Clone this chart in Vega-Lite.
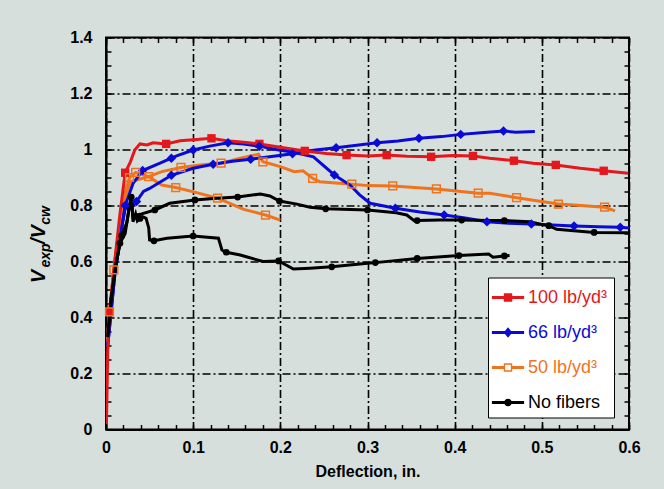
{
  "$schema": "https://vega.github.io/schema/vega-lite/v6.json",
  "width": 523,
  "height": 392,
  "autosize": "none",
  "padding": {"left": 106, "top": 37.5, "right": 35, "bottom": 59.5},
  "background": "#d7dfdc",
  "config": {
    "font": "Liberation Sans",
    "view": {"stroke": "black", "strokeWidth": 2},
    "axis": {"labelFont": "Liberation Sans", "labelFontWeight": "bold", "labelFontSize": 16, "labelColor": "black", "titleFont": "Liberation Sans", "titleFontWeight": "bold", "titleFontSize": 16, "titleColor": "black", "tickColor": "black", "tickWidth": 1.5, "domainColor": "black", "domainWidth": 2}
  },
  "data": {"values": [
    {"s":"50 lb/yd³","k":"O1","x":0.001,"y":0.3},
    {"s":"50 lb/yd³","k":"O1","x":0.004,"y":0.42,"m":1},
    {"s":"50 lb/yd³","k":"O1","x":0.009,"y":0.57,"m":1},
    {"s":"50 lb/yd³","k":"O1","x":0.015,"y":0.72},
    {"s":"50 lb/yd³","k":"O1","x":0.022,"y":0.85},
    {"s":"50 lb/yd³","k":"O1","x":0.027,"y":0.9,"m":1},
    {"s":"50 lb/yd³","k":"O1","x":0.034,"y":0.918,"m":1},
    {"s":"50 lb/yd³","k":"O1","x":0.049,"y":0.903,"m":1},
    {"s":"50 lb/yd³","k":"O1","x":0.064,"y":0.873},
    {"s":"50 lb/yd³","k":"O1","x":0.08,"y":0.864,"m":1},
    {"s":"50 lb/yd³","k":"O1","x":0.104,"y":0.846},
    {"s":"50 lb/yd³","k":"O1","x":0.128,"y":0.826,"m":1},
    {"s":"50 lb/yd³","k":"O1","x":0.142,"y":0.808},
    {"s":"50 lb/yd³","k":"O1","x":0.158,"y":0.786},
    {"s":"50 lb/yd³","k":"O1","x":0.183,"y":0.766,"m":1},
    {"s":"50 lb/yd³","k":"O1","x":0.2,"y":0.748},
    {"s":"50 lb/yd³","k":"O2","x":0.001,"y":0.3},
    {"s":"50 lb/yd³","k":"O2","x":0.009,"y":0.57},
    {"s":"50 lb/yd³","k":"O2","x":0.015,"y":0.72},
    {"s":"50 lb/yd³","k":"O2","x":0.022,"y":0.83},
    {"s":"50 lb/yd³","k":"O2","x":0.028,"y":0.885},
    {"s":"50 lb/yd³","k":"O2","x":0.049,"y":0.903},
    {"s":"50 lb/yd³","k":"O2","x":0.064,"y":0.921},
    {"s":"50 lb/yd³","k":"O2","x":0.086,"y":0.936,"m":1},
    {"s":"50 lb/yd³","k":"O2","x":0.108,"y":0.945},
    {"s":"50 lb/yd³","k":"O2","x":0.132,"y":0.951,"m":1},
    {"s":"50 lb/yd³","k":"O2","x":0.154,"y":0.969},
    {"s":"50 lb/yd³","k":"O2","x":0.175,"y":0.983},
    {"s":"50 lb/yd³","k":"O2","x":0.18,"y":0.956,"m":1},
    {"s":"50 lb/yd³","k":"O2","x":0.2,"y":0.939},
    {"s":"50 lb/yd³","k":"O2","x":0.216,"y":0.921},
    {"s":"50 lb/yd³","k":"O2","x":0.226,"y":0.924},
    {"s":"50 lb/yd³","k":"O2","x":0.237,"y":0.897,"m":1},
    {"s":"50 lb/yd³","k":"O2","x":0.245,"y":0.885},
    {"s":"50 lb/yd³","k":"O2","x":0.282,"y":0.876,"m":1},
    {"s":"50 lb/yd³","k":"O2","x":0.301,"y":0.871},
    {"s":"50 lb/yd³","k":"O2","x":0.329,"y":0.87,"m":1},
    {"s":"50 lb/yd³","k":"O2","x":0.379,"y":0.859,"m":1},
    {"s":"50 lb/yd³","k":"O2","x":0.427,"y":0.844,"m":1},
    {"s":"50 lb/yd³","k":"O2","x":0.44,"y":0.844},
    {"s":"50 lb/yd³","k":"O2","x":0.471,"y":0.828,"m":1},
    {"s":"50 lb/yd³","k":"O2","x":0.519,"y":0.805,"m":1},
    {"s":"50 lb/yd³","k":"O2","x":0.545,"y":0.8},
    {"s":"50 lb/yd³","k":"O2","x":0.572,"y":0.794,"m":1},
    {"s":"50 lb/yd³","k":"O2","x":0.584,"y":0.781},
    {"s":"66 lb/yd³","k":"B1","x":0.002,"y":0.3},
    {"s":"66 lb/yd³","k":"B1","x":0.01,"y":0.55},
    {"s":"66 lb/yd³","k":"B1","x":0.018,"y":0.72},
    {"s":"66 lb/yd³","k":"B1","x":0.022,"y":0.8,"m":1},
    {"s":"66 lb/yd³","k":"B1","x":0.031,"y":0.879},
    {"s":"66 lb/yd³","k":"B1","x":0.042,"y":0.925,"m":1},
    {"s":"66 lb/yd³","k":"B1","x":0.062,"y":0.951},
    {"s":"66 lb/yd³","k":"B1","x":0.075,"y":0.969,"m":1},
    {"s":"66 lb/yd³","k":"B1","x":0.081,"y":0.977},
    {"s":"66 lb/yd³","k":"B1","x":0.1,"y":0.998,"m":1},
    {"s":"66 lb/yd³","k":"B1","x":0.119,"y":1.012},
    {"s":"66 lb/yd³","k":"B1","x":0.14,"y":1.024,"m":1},
    {"s":"66 lb/yd³","k":"B1","x":0.158,"y":1.02},
    {"s":"66 lb/yd³","k":"B1","x":0.176,"y":1.012,"m":1},
    {"s":"66 lb/yd³","k":"B1","x":0.195,"y":1.0},
    {"s":"66 lb/yd³","k":"B1","x":0.215,"y":0.99},
    {"s":"66 lb/yd³","k":"B1","x":0.238,"y":0.974},
    {"s":"66 lb/yd³","k":"B1","x":0.262,"y":0.909,"m":1},
    {"s":"66 lb/yd³","k":"B1","x":0.28,"y":0.873},
    {"s":"66 lb/yd³","k":"B1","x":0.291,"y":0.838},
    {"s":"66 lb/yd³","k":"B1","x":0.303,"y":0.808},
    {"s":"66 lb/yd³","k":"B1","x":0.332,"y":0.79,"m":1},
    {"s":"66 lb/yd³","k":"B1","x":0.36,"y":0.777},
    {"s":"66 lb/yd³","k":"B1","x":0.388,"y":0.766,"m":1},
    {"s":"66 lb/yd³","k":"B1","x":0.412,"y":0.755},
    {"s":"66 lb/yd³","k":"B1","x":0.437,"y":0.742,"m":1},
    {"s":"66 lb/yd³","k":"B1","x":0.462,"y":0.737},
    {"s":"66 lb/yd³","k":"B1","x":0.488,"y":0.734,"m":1},
    {"s":"66 lb/yd³","k":"B1","x":0.512,"y":0.73},
    {"s":"66 lb/yd³","k":"B1","x":0.537,"y":0.727,"m":1},
    {"s":"66 lb/yd³","k":"B1","x":0.565,"y":0.724},
    {"s":"66 lb/yd³","k":"B1","x":0.59,"y":0.722,"m":1},
    {"s":"66 lb/yd³","k":"B1","x":0.6,"y":0.72},
    {"s":"66 lb/yd³","k":"B2","x":0.002,"y":0.3},
    {"s":"66 lb/yd³","k":"B2","x":0.01,"y":0.55},
    {"s":"66 lb/yd³","k":"B2","x":0.018,"y":0.72},
    {"s":"66 lb/yd³","k":"B2","x":0.022,"y":0.79},
    {"s":"66 lb/yd³","k":"B2","x":0.028,"y":0.79},
    {"s":"66 lb/yd³","k":"B2","x":0.035,"y":0.814,"m":1},
    {"s":"66 lb/yd³","k":"B2","x":0.043,"y":0.85},
    {"s":"66 lb/yd³","k":"B2","x":0.05,"y":0.861},
    {"s":"66 lb/yd³","k":"B2","x":0.075,"y":0.908,"m":1},
    {"s":"66 lb/yd³","k":"B2","x":0.1,"y":0.933},
    {"s":"66 lb/yd³","k":"B2","x":0.123,"y":0.947,"m":1},
    {"s":"66 lb/yd³","k":"B2","x":0.145,"y":0.958},
    {"s":"66 lb/yd³","k":"B2","x":0.166,"y":0.965,"m":1},
    {"s":"66 lb/yd³","k":"B2","x":0.19,"y":0.975},
    {"s":"66 lb/yd³","k":"B2","x":0.214,"y":0.985,"m":1},
    {"s":"66 lb/yd³","k":"B2","x":0.24,"y":0.998},
    {"s":"66 lb/yd³","k":"B2","x":0.264,"y":1.006,"m":1},
    {"s":"66 lb/yd³","k":"B2","x":0.29,"y":1.016},
    {"s":"66 lb/yd³","k":"B2","x":0.311,"y":1.024,"m":1},
    {"s":"66 lb/yd³","k":"B2","x":0.335,"y":1.03},
    {"s":"66 lb/yd³","k":"B2","x":0.359,"y":1.04,"m":1},
    {"s":"66 lb/yd³","k":"B2","x":0.385,"y":1.046},
    {"s":"66 lb/yd³","k":"B2","x":0.407,"y":1.054,"m":1},
    {"s":"66 lb/yd³","k":"B2","x":0.43,"y":1.06},
    {"s":"66 lb/yd³","k":"B2","x":0.456,"y":1.066,"m":1},
    {"s":"66 lb/yd³","k":"B2","x":0.47,"y":1.062},
    {"s":"66 lb/yd³","k":"B2","x":0.492,"y":1.064},
    {"s":"100 lb/yd³","k":"R1","x":0.0005,"y":0.02},
    {"s":"100 lb/yd³","k":"R1","x":0.002,"y":0.28},
    {"s":"100 lb/yd³","k":"R1","x":0.004,"y":0.42,"m":1},
    {"s":"100 lb/yd³","k":"R1","x":0.01,"y":0.6},
    {"s":"100 lb/yd³","k":"R1","x":0.016,"y":0.77},
    {"s":"100 lb/yd³","k":"R1","x":0.022,"y":0.917,"m":1},
    {"s":"100 lb/yd³","k":"R1","x":0.028,"y":0.956},
    {"s":"100 lb/yd³","k":"R1","x":0.033,"y":0.998},
    {"s":"100 lb/yd³","k":"R1","x":0.039,"y":1.02},
    {"s":"100 lb/yd³","k":"R1","x":0.047,"y":1.016},
    {"s":"100 lb/yd³","k":"R1","x":0.054,"y":1.024},
    {"s":"100 lb/yd³","k":"R1","x":0.069,"y":1.02,"m":1},
    {"s":"100 lb/yd³","k":"R1","x":0.085,"y":1.031},
    {"s":"100 lb/yd³","k":"R1","x":0.104,"y":1.036},
    {"s":"100 lb/yd³","k":"R1","x":0.121,"y":1.04,"m":1},
    {"s":"100 lb/yd³","k":"R1","x":0.138,"y":1.031},
    {"s":"100 lb/yd³","k":"R1","x":0.155,"y":1.027},
    {"s":"100 lb/yd³","k":"R1","x":0.176,"y":1.02,"m":1},
    {"s":"100 lb/yd³","k":"R1","x":0.2,"y":1.008},
    {"s":"100 lb/yd³","k":"R1","x":0.228,"y":0.995,"m":1},
    {"s":"100 lb/yd³","k":"R1","x":0.253,"y":0.986},
    {"s":"100 lb/yd³","k":"R1","x":0.276,"y":0.98,"m":1},
    {"s":"100 lb/yd³","k":"R1","x":0.3,"y":0.977},
    {"s":"100 lb/yd³","k":"R1","x":0.322,"y":0.98,"m":1},
    {"s":"100 lb/yd³","k":"R1","x":0.345,"y":0.976},
    {"s":"100 lb/yd³","k":"R1","x":0.373,"y":0.974,"m":1},
    {"s":"100 lb/yd³","k":"R1","x":0.398,"y":0.979},
    {"s":"100 lb/yd³","k":"R1","x":0.421,"y":0.977,"m":1},
    {"s":"100 lb/yd³","k":"R1","x":0.44,"y":0.969},
    {"s":"100 lb/yd³","k":"R1","x":0.468,"y":0.96,"m":1},
    {"s":"100 lb/yd³","k":"R1","x":0.49,"y":0.951},
    {"s":"100 lb/yd³","k":"R1","x":0.516,"y":0.945,"m":1},
    {"s":"100 lb/yd³","k":"R1","x":0.544,"y":0.933},
    {"s":"100 lb/yd³","k":"R1","x":0.571,"y":0.924,"m":1},
    {"s":"100 lb/yd³","k":"R1","x":0.599,"y":0.915},
    {"s":"No fibers","k":"K1","x":0.002,"y":0.33},
    {"s":"No fibers","k":"K1","x":0.006,"y":0.47},
    {"s":"No fibers","k":"K1","x":0.012,"y":0.6},
    {"s":"No fibers","k":"K1","x":0.016,"y":0.665,"m":1},
    {"s":"No fibers","k":"K1","x":0.022,"y":0.7},
    {"s":"No fibers","k":"K1","x":0.026,"y":0.78},
    {"s":"No fibers","k":"K1","x":0.029,"y":0.83,"m":1},
    {"s":"No fibers","k":"K1","x":0.031,"y":0.76},
    {"s":"No fibers","k":"K1","x":0.035,"y":0.766},
    {"s":"No fibers","k":"K1","x":0.041,"y":0.77},
    {"s":"No fibers","k":"K1","x":0.056,"y":0.784,"m":1},
    {"s":"No fibers","k":"K1","x":0.073,"y":0.808},
    {"s":"No fibers","k":"K1","x":0.102,"y":0.82,"m":1},
    {"s":"No fibers","k":"K1","x":0.127,"y":0.826},
    {"s":"No fibers","k":"K1","x":0.151,"y":0.83,"m":1},
    {"s":"No fibers","k":"K1","x":0.177,"y":0.841},
    {"s":"No fibers","k":"K1","x":0.188,"y":0.834},
    {"s":"No fibers","k":"K1","x":0.199,"y":0.816,"m":1},
    {"s":"No fibers","k":"K1","x":0.219,"y":0.805},
    {"s":"No fibers","k":"K1","x":0.234,"y":0.794},
    {"s":"No fibers","k":"K1","x":0.252,"y":0.788,"m":1},
    {"s":"No fibers","k":"K1","x":0.3,"y":0.784,"m":1},
    {"s":"No fibers","k":"K1","x":0.333,"y":0.774},
    {"s":"No fibers","k":"K1","x":0.345,"y":0.766},
    {"s":"No fibers","k":"K1","x":0.354,"y":0.745},
    {"s":"No fibers","k":"K1","x":0.357,"y":0.746,"m":1},
    {"s":"No fibers","k":"K1","x":0.383,"y":0.748},
    {"s":"No fibers","k":"K1","x":0.408,"y":0.748,"m":1},
    {"s":"No fibers","k":"K1","x":0.44,"y":0.746},
    {"s":"No fibers","k":"K1","x":0.457,"y":0.746,"m":1},
    {"s":"No fibers","k":"K1","x":0.486,"y":0.742},
    {"s":"No fibers","k":"K1","x":0.504,"y":0.73},
    {"s":"No fibers","k":"K1","x":0.508,"y":0.728,"m":1},
    {"s":"No fibers","k":"K1","x":0.517,"y":0.715},
    {"s":"No fibers","k":"K1","x":0.56,"y":0.704,"m":1},
    {"s":"No fibers","k":"K1","x":0.599,"y":0.703},
    {"s":"No fibers","k":"K2","x":0.002,"y":0.33},
    {"s":"No fibers","k":"K2","x":0.006,"y":0.47},
    {"s":"No fibers","k":"K2","x":0.012,"y":0.6},
    {"s":"No fibers","k":"K2","x":0.018,"y":0.692,"m":1},
    {"s":"No fibers","k":"K2","x":0.024,"y":0.74},
    {"s":"No fibers","k":"K2","x":0.027,"y":0.8},
    {"s":"No fibers","k":"K2","x":0.029,"y":0.834},
    {"s":"No fibers","k":"K2","x":0.031,"y":0.742},
    {"s":"No fibers","k":"K2","x":0.034,"y":0.77},
    {"s":"No fibers","k":"K2","x":0.036,"y":0.745},
    {"s":"No fibers","k":"K2","x":0.039,"y":0.754,"m":1},
    {"s":"No fibers","k":"K2","x":0.042,"y":0.76},
    {"s":"No fibers","k":"K2","x":0.046,"y":0.754},
    {"s":"No fibers","k":"K2","x":0.049,"y":0.72},
    {"s":"No fibers","k":"K2","x":0.05,"y":0.677},
    {"s":"No fibers","k":"K2","x":0.055,"y":0.674,"m":1},
    {"s":"No fibers","k":"K2","x":0.07,"y":0.683},
    {"s":"No fibers","k":"K2","x":0.1,"y":0.691,"m":1},
    {"s":"No fibers","k":"K2","x":0.129,"y":0.683},
    {"s":"No fibers","k":"K2","x":0.133,"y":0.641},
    {"s":"No fibers","k":"K2","x":0.138,"y":0.633,"m":1},
    {"s":"No fibers","k":"K2","x":0.154,"y":0.623},
    {"s":"No fibers","k":"K2","x":0.161,"y":0.617},
    {"s":"No fibers","k":"K2","x":0.18,"y":0.6},
    {"s":"No fibers","k":"K2","x":0.198,"y":0.602,"m":1},
    {"s":"No fibers","k":"K2","x":0.215,"y":0.573},
    {"s":"No fibers","k":"K2","x":0.234,"y":0.576},
    {"s":"No fibers","k":"K2","x":0.259,"y":0.581,"m":1},
    {"s":"No fibers","k":"K2","x":0.3,"y":0.594},
    {"s":"No fibers","k":"K2","x":0.309,"y":0.596,"m":1},
    {"s":"No fibers","k":"K2","x":0.357,"y":0.611,"m":1},
    {"s":"No fibers","k":"K2","x":0.405,"y":0.621,"m":1},
    {"s":"No fibers","k":"K2","x":0.439,"y":0.627},
    {"s":"No fibers","k":"K2","x":0.444,"y":0.615},
    {"s":"No fibers","k":"K2","x":0.457,"y":0.62,"m":1},
    {"s":"No fibers","k":"K2","x":0.463,"y":0.621}
  ]},
  "resolve": {"axis": {"x": "independent", "y": "independent"}},
  "layer": [
    {
      "mark": {"type": "line", "strokeWidth": 3, "clip": true},
      "encoding": {
        "x": {"field": "x", "type": "quantitative", "scale": {"domain": [0, 0.6], "nice": false},
          "axis": {"orient": "bottom", "title": "Deflection, in.", "titlePadding": 8,
            "values": [0,0.02,0.04,0.06,0.08,0.1,0.12,0.14,0.16,0.18,0.2,0.22,0.24,0.26,0.28,0.3,0.32,0.34,0.36,0.38,0.4,0.42,0.44,0.46,0.48,0.5,0.52,0.54,0.56,0.58,0.6],
            "labelExpr": "abs(datum.value*10-round(datum.value*10))<0.001 ? format(datum.value,'~g') : ''",
            "labelOverlap": false, "labelFlush": false, "tickSize": -5, "labelPadding": 15,
            "grid": true, "gridColor": "black", "gridWidth": 1.6, "gridDash": [8, 3, 2, 3],
            "gridOpacity": {"condition": {"test": "abs(datum.value*10-round(datum.value*10))<0.001", "value": 1}, "value": 0}}},
        "y": {"field": "y", "type": "quantitative", "scale": {"domain": [0, 1.4], "nice": false},
          "axis": {"orient": "left", "title": "V", "titleAngle": -90, "titleX": -62, "titleY": 238.5, "titleAlign": "center", "titleBaseline": "alphabetic", "titleFontSize": 20, "titleFontStyle": "italic",
            "values": [0,0.05,0.1,0.15,0.2,0.25,0.3,0.35,0.4,0.45,0.5,0.55,0.6,0.65,0.7,0.75,0.8,0.85,0.9,0.95,1,1.05,1.1,1.15,1.2,1.25,1.3,1.35,1.4],
            "labelExpr": "abs(datum.value*5-round(datum.value*5))<0.001 ? format(datum.value,'~g') : ''",
            "labelOverlap": false, "labelFlush": false, "tickSize": -5, "labelPadding": 19,
            "grid": true, "gridColor": "black", "gridWidth": 1.6, "gridDash": [8, 3, 2, 3],
            "gridOpacity": {"condition": {"test": "abs(datum.value*5-round(datum.value*5))<0.001", "value": 1}, "value": 0}}},
        "color": {"field": "s", "type": "nominal",
          "scale": {"domain": ["100 lb/yd³", "66 lb/yd³", "50 lb/yd³", "No fibers"], "range": ["#e3171c", "#0a0ad6", "#f0731e", "#000000"]},
          "legend": {"orient": "none", "legendX": 382, "legendY": 240, "title": null,
            "fillColor": "white", "strokeColor": "black", "padding": 6, "rowPadding": 12,
            "symbolSize": 784, "labelFontSize": 18, "labelFont": "Liberation Sans", "labelOffset": 6, "labelLimit": 200,
            "encode": {
              "symbols": {"update": {
                "shape": {"signal": "datum.value == '100 lb/yd³' ? 'M-1.15,-0.1H1.15V0.1H-1.15ZM-0.3,-0.3H0.3V0.3H-0.3Z' : datum.value == '66 lb/yd³' ? 'M-1.15,-0.1H1.15V0.1H-1.15ZM0,-0.38L0.3,0L0,0.38L-0.3,0Z' : datum.value == '50 lb/yd³' ? 'M-1.15,-0.1H-0.3V0.1H-1.15ZM0.3,-0.1H1.15V0.1H0.3ZM-0.3,-0.3H0.3V0.3H-0.3ZM-0.2,-0.2V0.2H0.2V-0.2Z' : 'M-1.15,-0.1H1.15V0.1H-1.15ZM-0.27,0A0.27,0.27 0 1,1 0.27,0A0.27,0.27 0 1,1 -0.27,0Z'"},
                "fill": {"scale": "color", "field": "value"},
                "stroke": {"value": "transparent"},
                "strokeWidth": {"value": 0},
                "opacity": {"value": 1}
              }},
              "labels": {"update": {"fill": {"scale": "color", "field": "value"}}}
            }}},
        "detail": {"field": "k", "type": "nominal"}
      }
    },
    {
      "transform": [{"filter": "datum.m == 1 && datum.k == 'R1'"}],
      "mark": {"type": "square", "filled": true, "size": 70, "opacity": 1},
      "encoding": {
        "x": {"field": "x", "type": "quantitative",
          "axis": {"orient": "top", "title": null, "labels": false, "domain": false, "grid": false, "tickSize": -5,
            "values": [0,0.02,0.04,0.06,0.08,0.1,0.12,0.14,0.16,0.18,0.2,0.22,0.24,0.26,0.28,0.3,0.32,0.34,0.36,0.38,0.4,0.42,0.44,0.46,0.48,0.5,0.52,0.54,0.56,0.58,0.6]}},
        "y": {"field": "y", "type": "quantitative",
          "axis": {"orient": "right", "title": null, "labels": false, "domain": false, "grid": false, "tickSize": -5,
            "values": [0,0.05,0.1,0.15,0.2,0.25,0.3,0.35,0.4,0.45,0.5,0.55,0.6,0.65,0.7,0.75,0.8,0.85,0.9,0.95,1,1.05,1.1,1.15,1.2,1.25,1.3,1.35,1.4]}},
        "color": {"field": "s", "type": "nominal"}
      }
    },
    {
      "transform": [{"filter": "datum.m == 1 && (datum.k == 'B1' || datum.k == 'B2')"}],
      "mark": {"type": "point", "shape": "diamond", "filled": true, "size": 90, "opacity": 1},
      "encoding": {
        "x": {"field": "x", "type": "quantitative", "axis": null},
        "y": {"field": "y", "type": "quantitative",
          "axis": {"orient": "left", "title": "exp", "labels": false, "ticks": false, "domain": false, "grid": false, "titleAngle": -90, "titleX": -57, "titleY": 217.5, "titleAlign": "center", "titleBaseline": "alphabetic", "titleFontSize": 14, "titleFontStyle": "italic"}},
        "color": {"field": "s", "type": "nominal"}
      }
    },
    {
      "transform": [{"filter": "datum.m == 1 && (datum.k == 'K1' || datum.k == 'K2')"}],
      "mark": {"type": "circle", "size": 45, "opacity": 1},
      "encoding": {
        "x": {"field": "x", "type": "quantitative", "axis": null},
        "y": {"field": "y", "type": "quantitative",
          "axis": {"orient": "left", "title": "/V", "labels": false, "ticks": false, "domain": false, "grid": false, "titleAngle": -90, "titleX": -62, "titleY": 196.5, "titleAlign": "center", "titleBaseline": "alphabetic", "titleFontSize": 20, "titleFontStyle": "italic"}},
        "color": {"field": "s", "type": "nominal"}
      }
    },
    {
      "transform": [{"filter": "datum.m == 1 && (datum.k == 'O1' || datum.k == 'O2')"}],
      "mark": {"type": "square", "filled": false, "size": 60, "strokeWidth": 1.5, "opacity": 1},
      "encoding": {
        "x": {"field": "x", "type": "quantitative", "axis": null},
        "y": {"field": "y", "type": "quantitative",
          "axis": {"orient": "left", "title": "cw", "labels": false, "ticks": false, "domain": false, "grid": false, "titleAngle": -90, "titleX": -57, "titleY": 177.5, "titleAlign": "center", "titleBaseline": "alphabetic", "titleFontSize": 14, "titleFontStyle": "italic"}},
        "color": {"field": "s", "type": "nominal"}
      }
    }
  ]
}
